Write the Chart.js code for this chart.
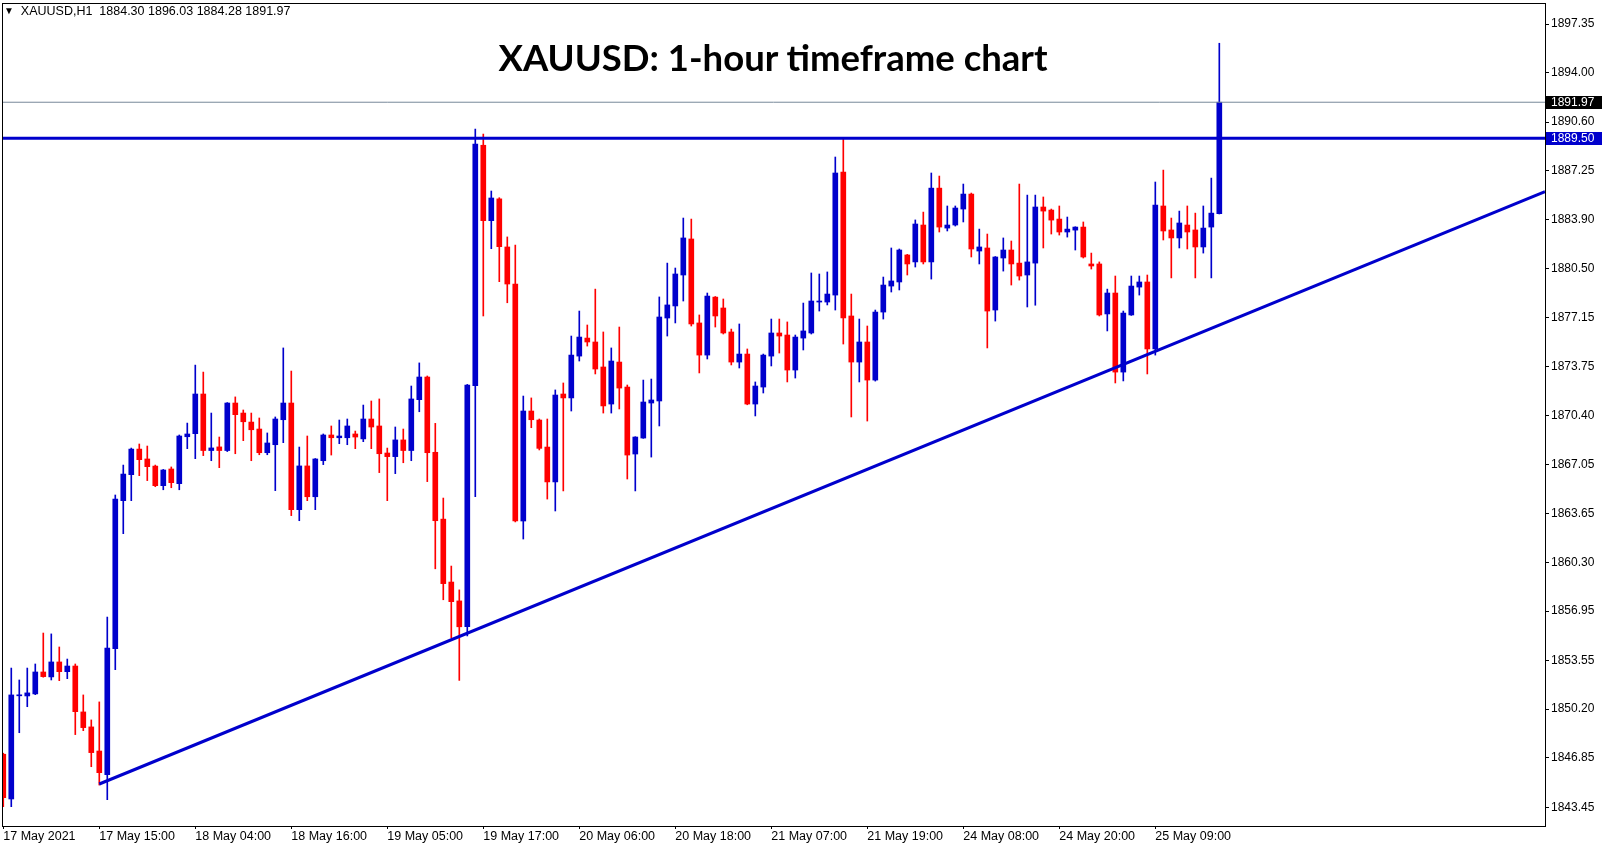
<!DOCTYPE html>
<html>
<head>
<meta charset="utf-8">
<script src="https://cdn.jsdelivr.net/npm/chart.js@4.4.1/dist/chart.umd.min.js"></script>
<style>
  html, body { margin: 0; padding: 0; background: #fff; }
  #wrap { position: relative; width: 1607px; height: 850px; }
  #header {
    position: absolute; left: 4px; top: 4px;
    font: 12.5px "Liberation Sans", sans-serif; color: #000; white-space: pre;
  }
  #header .tri { font-size: 10px; position: relative; top: -1px; }
  #title {
    position: absolute; left: 0; width: 1546px; top: 35px; text-align: center;
    font: bold 36.5px Lato, "Open Sans", sans-serif; color: #000;
  }
</style>
</head>
<body>
<div id="wrap">
  <canvas id="chart" width="1607" height="850"></canvas>
  <div id="header"><span class="tri">▼</span>  XAUUSD,H1  1884.30 1896.03 1884.28 1891.97</div>
  <div id="title">XAUUSD: 1-hour timeframe chart</div>
</div>
<script>
// hourly candles, 17 May 2021 -> 25 May 2021
const opens = [
    1847.10, 1844.02, 1851.12, 1851.11, 1851.25, 1852.76, 1852.42, 1853.45, 1852.78, 1853.17,
    1850.01, 1848.98, 1847.32, 1845.69, 1854.37, 1864.55, 1866.34, 1868.10, 1867.42, 1866.93,
    1865.58, 1866.73, 1865.72, 1868.95, 1869.16, 1871.89, 1868.00, 1868.25, 1868.00, 1871.27,
    1870.58, 1869.96, 1869.48, 1867.85, 1868.40, 1870.12, 1871.27, 1863.93, 1866.94, 1864.82,
    1867.30, 1869.07, 1868.88, 1868.88, 1869.14, 1868.80, 1870.17, 1869.69, 1867.83, 1867.58,
    1868.73, 1868.00, 1871.50, 1873.06, 1867.88, 1863.28, 1858.95, 1857.65, 1855.87, 1872.47,
    1889.01, 1883.82, 1885.32, 1882.01, 1879.46, 1863.15, 1870.72, 1870.10, 1868.24, 1865.84,
    1871.89, 1871.62, 1874.50, 1875.74, 1875.47, 1873.75, 1871.20, 1874.09, 1872.37, 1867.76,
    1868.86, 1871.27, 1871.41, 1877.12, 1877.95, 1880.08, 1882.56, 1876.78, 1874.57, 1878.56,
    1877.81, 1876.16, 1874.09, 1874.64, 1871.20, 1872.37, 1874.50, 1876.09, 1875.95, 1873.54,
    1875.74, 1876.09, 1878.22, 1878.22, 1878.70, 1887.17, 1877.26, 1874.09, 1875.47, 1872.85,
    1877.53, 1879.32, 1879.60, 1881.46, 1880.98, 1883.52, 1880.98, 1886.06, 1883.31, 1883.52,
    1884.62, 1885.65, 1881.73, 1881.94, 1877.67, 1881.25, 1881.80, 1880.90, 1880.08, 1880.90,
    1884.76, 1884.55, 1883.93, 1883.04, 1883.17, 1883.38, 1880.84, 1880.84, 1877.40, 1878.84,
    1873.40, 1877.33, 1879.25, 1879.60, 1874.99, 1884.83, 1883.18, 1882.63, 1883.52, 1883.18,
    1882.01, 1883.38, 1884.30
];
const highs = [
    1847.17, 1853.03, 1852.21, 1853.03, 1853.31, 1855.44, 1855.38, 1854.48, 1853.65, 1853.31,
    1851.18, 1849.46, 1850.70, 1856.54, 1864.94, 1867.00, 1868.17, 1868.45, 1868.31, 1867.00,
    1866.70, 1866.87, 1869.07, 1869.89, 1873.88, 1873.40, 1870.58, 1868.93, 1871.30, 1871.69,
    1870.79, 1870.58, 1870.24, 1869.21, 1870.31, 1875.06, 1873.47, 1868.24, 1869.00, 1867.45,
    1869.14, 1869.69, 1870.10, 1870.17, 1869.34, 1871.13, 1871.41, 1871.55, 1868.17, 1869.62,
    1869.48, 1872.44, 1874.03, 1873.13, 1869.87, 1864.73, 1860.05, 1858.41, 1872.55, 1890.13,
    1889.78, 1885.86, 1885.40, 1882.70, 1882.14, 1871.75, 1871.62, 1870.17, 1870.17, 1872.17,
    1872.65, 1875.88, 1877.60, 1876.64, 1879.11, 1876.16, 1875.06, 1876.50, 1872.51, 1868.95,
    1872.85, 1872.92, 1878.57, 1880.90, 1880.56, 1884.00, 1883.93, 1877.33, 1878.84, 1878.60,
    1878.43, 1876.36, 1876.71, 1874.99, 1872.72, 1874.64, 1877.05, 1877.05, 1876.85, 1875.95,
    1878.15, 1880.22, 1880.15, 1880.29, 1888.20, 1889.51, 1878.77, 1877.05, 1876.57, 1877.67,
    1879.94, 1881.94, 1881.87, 1881.50, 1883.87, 1884.41, 1887.10, 1886.89, 1884.83, 1884.83,
    1886.34, 1885.72, 1883.24, 1882.90, 1881.35, 1882.63, 1882.42, 1886.34, 1885.58, 1885.58,
    1885.45, 1884.62, 1884.83, 1884.07, 1883.40, 1883.73, 1881.59, 1880.98, 1879.11, 1880.01,
    1877.60, 1880.01, 1880.01, 1880.08, 1886.48, 1887.30, 1884.00, 1884.48, 1884.83, 1884.34,
    1884.83, 1886.75, 1896.03
];
const lows = [
    1843.49, 1843.49, 1848.58, 1850.37, 1851.20, 1852.40, 1852.21, 1852.16, 1852.30, 1848.45,
    1848.72, 1846.24, 1844.98, 1843.97, 1852.92, 1862.28, 1864.55, 1866.27, 1865.93, 1865.51,
    1865.30, 1865.44, 1865.30, 1868.13, 1867.44, 1867.65, 1867.30, 1866.82, 1867.93, 1867.78,
    1868.68, 1867.30, 1867.71, 1867.71, 1865.24, 1868.54, 1863.52, 1863.17, 1864.55, 1863.93,
    1867.03, 1867.69, 1868.47, 1868.40, 1868.13, 1868.61, 1868.13, 1866.48, 1864.55, 1866.41,
    1867.16, 1867.30, 1870.67, 1865.86, 1859.86, 1857.73, 1855.10, 1852.18, 1855.24, 1864.83,
    1877.26, 1881.89, 1879.62, 1878.17, 1863.08, 1861.91, 1869.57, 1868.04, 1864.66, 1863.84,
    1865.22, 1870.72, 1874.16, 1875.19, 1873.27, 1870.58, 1870.58, 1870.86, 1866.04, 1865.22,
    1868.84, 1867.55, 1869.69, 1875.88, 1876.78, 1878.29, 1876.57, 1873.34, 1874.30, 1876.50,
    1876.02, 1873.89, 1873.68, 1871.15, 1870.38, 1871.96, 1873.82, 1874.71, 1872.72, 1872.99,
    1874.92, 1876.02, 1877.60, 1878.02, 1877.67, 1875.33, 1870.31, 1872.72, 1870.03, 1872.78,
    1877.05, 1878.91, 1879.05, 1880.08, 1880.63, 1880.84, 1879.80, 1883.04, 1883.11, 1883.45,
    1883.73, 1881.32, 1880.84, 1875.06, 1876.91, 1880.35, 1879.39, 1879.73, 1877.88, 1878.00,
    1881.94, 1882.90, 1882.83, 1882.69, 1881.80, 1881.25, 1880.49, 1877.26, 1876.23, 1872.65,
    1872.79, 1877.30, 1878.70, 1873.27, 1874.57, 1882.49, 1879.88, 1881.94, 1881.87, 1879.88,
    1881.59, 1879.88, 1884.28
];
const closes = [
    1844.11, 1851.18, 1851.16, 1851.32, 1852.76, 1852.44, 1853.45, 1852.78, 1853.17, 1850.03,
    1848.93, 1847.21, 1845.83, 1854.41, 1864.66, 1866.38, 1868.10, 1867.37, 1866.89, 1865.58,
    1866.66, 1865.79, 1869.00, 1869.14, 1871.89, 1868.00, 1868.18, 1868.00, 1871.27, 1870.47,
    1869.98, 1869.43, 1867.85, 1868.52, 1870.17, 1871.27, 1863.93, 1866.94, 1864.82, 1867.42,
    1869.07, 1868.88, 1869.00, 1869.69, 1868.93, 1870.17, 1869.62, 1867.78, 1867.58, 1868.73,
    1868.00, 1871.55, 1873.06, 1867.85, 1863.17, 1858.84, 1857.60, 1855.87, 1872.51, 1889.09,
    1883.82, 1885.38, 1882.03, 1879.46, 1863.15, 1870.72, 1870.12, 1868.15, 1865.84, 1871.82,
    1871.62, 1874.57, 1875.81, 1875.47, 1873.61, 1871.07, 1874.16, 1872.30, 1867.69, 1868.93,
    1871.34, 1871.48, 1877.19, 1878.02, 1880.15, 1882.63, 1876.71, 1874.57, 1878.63, 1877.26,
    1876.09, 1874.09, 1874.64, 1871.20, 1872.44, 1874.57, 1876.09, 1875.88, 1873.54, 1875.81,
    1876.23, 1878.29, 1878.29, 1878.77, 1887.10, 1877.12, 1874.09, 1875.47, 1872.85, 1877.53,
    1879.39, 1879.67, 1881.80, 1880.84, 1883.59, 1880.98, 1886.06, 1883.38, 1883.52, 1884.69,
    1885.65, 1881.87, 1882.01, 1877.60, 1881.32, 1881.80, 1880.84, 1880.01, 1880.98, 1884.76,
    1884.48, 1883.86, 1883.04, 1883.24, 1883.38, 1881.32, 1880.70, 1877.33, 1878.84, 1873.40,
    1877.46, 1879.32, 1879.60, 1874.99, 1884.90, 1883.11, 1882.63, 1883.66, 1883.04, 1882.01,
    1883.31, 1884.34, 1891.97
];

const xTickLabels = ["17 May 2021", "17 May 15:00", "18 May 04:00", "18 May 16:00", "19 May 05:00",
    "19 May 17:00", "20 May 06:00", "20 May 18:00", "21 May 07:00", "21 May 19:00",
    "24 May 08:00", "24 May 20:00", "25 May 09:00"];
const xTickBars = [0, 12, 24, 36, 48, 60, 72, 84, 96, 108, 120, 132, 144];
const yTickValues = [1897.35, 1894.00, 1890.60, 1887.25, 1883.90, 1880.50, 1877.15, 1873.75,
    1870.40, 1867.05, 1863.65, 1860.30, 1856.95, 1853.55, 1850.20, 1846.85, 1843.45];

const resistance = 1889.50;
const lastPrice = 1891.97;
// support trendline: from the 17 May 15:00 low out to the right edge
const trendBars = [12, 192.71];
const trendPrices = [1845.05, 1885.81];

const xMin = -0.16, xMax = 192.71;
const yMin = 1842.16, yMax = 1898.80;

const BLUE = "#0000cc";
const RED = "#ff0000";

const colors = opens.map((o, i) => (closes[i] >= o ? BLUE : RED));
const wickData = opens.map((o, i) => ({ x: i, y: [lows[i], highs[i]] }));
const bodyData = opens.map((o, i) => ({ x: i, y: [o, closes[i]] }));

// price boxes on the right axis + frame
const decorations = {
    id: "decorations",
    afterDraw(chart) {
        const { ctx, chartArea, scales } = chart;
        ctx.save();
        ctx.strokeStyle = "#000";
        ctx.lineWidth = 1;
        ctx.strokeRect(chartArea.left + 0.5, chartArea.top + 0.5,
            chartArea.right - chartArea.left, chartArea.bottom - chartArea.top);

        const boxes = [
            { v: lastPrice, bg: "#000000" },
            { v: resistance, bg: BLUE },
        ];
        ctx.font = "12px 'Liberation Sans', sans-serif";
        ctx.textBaseline = "middle";
        boxes.forEach((b) => {
            const y = Math.round(scales.y.getPixelForValue(b.v));
            ctx.fillStyle = b.bg;
            ctx.fillRect(chartArea.right + 1, y - 6, 56, 13);
            ctx.fillStyle = "#fff";
            ctx.fillText(b.v.toFixed(2), chartArea.right + 6, y + 1);
        });
        ctx.restore();
    },
};

new Chart(document.getElementById("chart"), {
    type: "bar",
    data: {
        datasets: [
            {
                type: "line",
                data: [{ x: xMin, y: lastPrice }, { x: xMax, y: lastPrice }],
                borderColor: "#778899",
                borderWidth: 1,
                pointRadius: 0,
                order: 0,
            },
            {
                type: "line",
                data: [{ x: xMin, y: resistance }, { x: xMax, y: resistance }],
                borderColor: BLUE,
                borderWidth: 3,
                pointRadius: 0,
                order: 0,
            },
            {
                type: "line",
                data: trendBars.map((b, i) => ({ x: b, y: trendPrices[i] })),
                borderColor: BLUE,
                borderWidth: 3,
                pointRadius: 0,
                order: 0,
            },
            {
                data: bodyData,
                backgroundColor: colors,
                barThickness: 5,
                minBarLength: 1,
                grouped: false,
                order: 1,
            },
            {
                data: wickData,
                backgroundColor: colors,
                barThickness: 1,
                minBarLength: 1,
                grouped: false,
                order: 2,
            },
        ],
    },
    options: {
        responsive: false,
        animation: false,
        events: [],
        layout: { padding: { left: 2, top: 3, right: 0, bottom: 0 } },
        plugins: {
            legend: { display: false },
            tooltip: { enabled: false },
        },
        scales: {
            x: {
                type: "linear",
                offset: false,
                min: xMin,
                max: xMax,
                afterBuildTicks: (scale) => {
                    scale.ticks = xTickBars.map((v) => ({ value: v }));
                },
                afterFit: (scale) => {
                    scale.height = 24;
                    scale.paddingLeft = 0;
                    scale.paddingRight = 0;
                },
                ticks: {
                    autoSkip: false,
                    maxRotation: 0,
                    align: "start",
                    padding: 0,
                    color: "#000",
                    font: { family: "'Liberation Sans Narrow', sans-serif", size: 12.5 },
                    callback: (v, i) => xTickLabels[i],
                },
                grid: { drawOnChartArea: false, offset: false, tickLength: 3, color: "#000" },
                border: { display: true, color: "#000" },
            },
            y: {
                position: "right",
                min: yMin,
                max: yMax,
                afterBuildTicks: (scale) => {
                    scale.ticks = yTickValues.map((v) => ({ value: v }));
                },
                afterFit: (scale) => {
                    scale.width = 62;
                    scale.paddingTop = 0;
                    scale.paddingBottom = 0;
                },
                ticks: {
                    padding: 2,
                    color: "#000",
                    font: { family: "'Liberation Sans', sans-serif", size: 12 },
                    callback: (v) => v.toFixed(2),
                },
                grid: { drawOnChartArea: false, tickLength: 4, color: "#000" },
                border: { display: true, color: "#000" },
            },
        },
    },
    plugins: [decorations],
});
</script>
</body>
</html>
